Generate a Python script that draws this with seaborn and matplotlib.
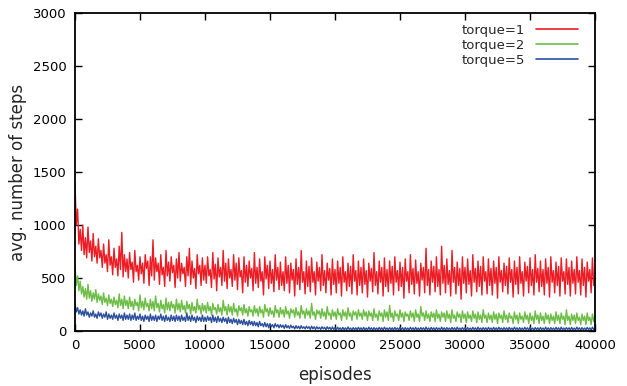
import numpy as np
import pandas as pd
import matplotlib
matplotlib.use('Agg')
import matplotlib.pyplot as plt
import seaborn as sns

# Episode grid (one reading every 100 episodes)
episodes = list(range(0, 40001, 100))

# Values, 20 readings per row (2000 episodes per row)
torque_1 = [
    1400, 1000, 1150, 820, 960, 760, 1000, 720, 880, 690, 980, 740, 850, 660, 920, 700, 800, 640, 870, 690,
    760, 600, 820, 640, 720, 560, 860, 620, 700, 530, 780, 600, 680, 520, 800, 580, 930, 510, 720, 560,
    680, 500, 740, 580, 650, 460, 760, 560, 620, 480, 700, 540, 640, 450, 720, 590, 660, 430, 700, 520,
    860, 480, 690, 560, 640, 440, 720, 530, 600, 420, 760, 520, 650, 470, 700, 550, 620, 410, 680, 500,
    740, 470, 640, 540, 600, 420, 700, 520, 780, 440, 660, 500, 590, 400, 720, 540, 620, 430, 690, 480,
    620, 450, 700, 520, 580, 410, 740, 490, 630, 380, 690, 510, 600, 430, 760, 470, 640, 400, 680, 500,
    580, 420, 720, 480, 640, 390, 690, 510, 570, 360, 700, 460, 620, 420, 660, 500, 590, 380, 740, 450,
    600, 410, 680, 470, 560, 340, 700, 490, 620, 400, 660, 450, 580, 370, 720, 480, 600, 390, 650, 430,
    560, 380, 700, 450, 620, 360, 640, 480, 580, 330, 680, 440, 600, 390, 760, 460, 560, 350, 660, 420,
    610, 370, 690, 460, 560, 340, 650, 470, 600, 380, 720, 430, 570, 360, 640, 480, 590, 340, 680, 440,
    580, 360, 660, 450, 600, 330, 700, 460, 560, 380, 640, 420, 610, 350, 720, 470, 570, 340, 660, 430,
    600, 360, 680, 440, 570, 320, 640, 470, 590, 370, 740, 430, 560, 350, 660, 460, 600, 330, 690, 420,
    580, 370, 660, 450, 610, 340, 700, 460, 570, 380, 650, 420, 600, 310, 680, 470, 560, 360, 720, 440,
    590, 350, 670, 450, 560, 330, 640, 480, 600, 360, 780, 430, 580, 340, 660, 460, 610, 370, 700, 420,
    580, 340, 800, 450, 620, 360, 680, 440, 570, 330, 760, 460, 600, 350, 650, 430, 590, 300, 700, 450,
    600, 360, 680, 440, 570, 330, 720, 460, 590, 370, 660, 420, 610, 340, 700, 470, 560, 350, 680, 430,
    590, 340, 660, 450, 600, 310, 700, 460, 570, 370, 640, 430, 610, 350, 690, 460, 580, 320, 660, 440,
    600, 350, 700, 450, 560, 330, 650, 470, 610, 360, 690, 430, 580, 340, 720, 460, 590, 370, 660, 420,
    580, 340, 680, 450, 600, 320, 700, 460, 570, 360, 650, 430, 610, 330, 690, 470, 560, 350, 680, 440,
    600, 330, 660, 450, 580, 350, 700, 460, 570, 340, 680, 430, 600, 320, 650, 470, 580, 360, 690, 430,
    500]

torque_2 = [
    620, 430, 520, 380, 470, 350, 420, 320, 400, 300, 440, 310, 380, 280, 360, 300, 390, 270, 350, 290,
    330, 250, 360, 270, 310, 240, 340, 260, 300, 230, 320, 250, 290, 220, 350, 240, 300, 210, 330, 240,
    290, 210, 320, 230, 280, 200, 300, 240, 270, 190, 340, 220, 280, 200, 310, 230, 260, 190, 300, 210,
    280, 190, 330, 220, 260, 180, 290, 210, 250, 170, 310, 200, 270, 190, 280, 220, 250, 170, 300, 200,
    260, 180, 290, 200, 240, 170, 280, 210, 250, 160, 270, 190, 230, 170, 300, 200, 240, 160, 260, 190,
    240, 170, 270, 190, 230, 150, 260, 200, 220, 160, 250, 180, 220, 150, 290, 190, 230, 150, 250, 180,
    230, 150, 260, 180, 210, 140, 240, 190, 220, 150, 250, 170, 210, 140, 230, 180, 200, 140, 240, 170,
    210, 140, 230, 170, 200, 130, 250, 180, 210, 140, 220, 160, 190, 130, 240, 170, 200, 130, 220, 160,
    200, 130, 230, 160, 190, 120, 210, 170, 200, 130, 220, 150, 180, 120, 240, 160, 190, 120, 210, 150,
    190, 120, 260, 150, 180, 110, 200, 160, 190, 120, 210, 140, 180, 110, 230, 150, 170, 110, 200, 140,
    180, 110, 210, 150, 170, 100, 200, 140, 180, 110, 220, 140, 170, 100, 190, 150, 180, 110, 200, 140,
    170, 110, 200, 140, 180, 100, 190, 140, 170, 100, 210, 130, 160, 100, 190, 140, 170, 90, 200, 130,
    180, 100, 240, 130, 170, 90, 190, 140, 160, 100, 200, 130, 170, 90, 180, 140, 160, 100, 190, 130,
    170, 90, 200, 130, 160, 90, 230, 140, 170, 100, 190, 120, 160, 90, 180, 130, 170, 90, 200, 120,
    160, 90, 180, 130, 170, 90, 190, 120, 160, 80, 200, 120, 150, 90, 180, 130, 160, 80, 190, 120,
    160, 80, 180, 120, 150, 90, 190, 120, 160, 80, 180, 110, 150, 80, 200, 120, 150, 80, 170, 110,
    150, 80, 180, 110, 160, 70, 170, 120, 150, 80, 190, 110, 150, 80, 170, 120, 140, 70, 180, 110,
    150, 70, 170, 110, 140, 80, 180, 110, 150, 70, 170, 100, 140, 70, 190, 110, 150, 70, 170, 100,
    140, 70, 170, 110, 150, 70, 160, 100, 140, 70, 180, 100, 150, 70, 170, 110, 140, 60, 200, 100,
    140, 60, 160, 100, 150, 70, 170, 100, 130, 60, 160, 100, 140, 60, 170, 100, 130, 60, 160, 90,
    150]

torque_5 = [
    260, 180, 220, 160, 200, 150, 190, 140, 210, 150, 180, 130, 170, 140, 190, 130, 160, 120, 180, 140,
    170, 120, 160, 130, 180, 110, 160, 120, 150, 110, 170, 120, 150, 100, 160, 120, 150, 100, 170, 110,
    150, 110, 160, 100, 150, 110, 170, 100, 140, 110, 160, 100, 140, 90, 150, 110, 140, 90, 160, 100,
    140, 100, 150, 90, 140, 110, 160, 100, 140, 90, 150, 100, 130, 90, 150, 100, 140, 90, 150, 100,
    140, 90, 150, 100, 130, 90, 170, 100, 140, 90, 150, 100, 130, 80, 140, 100, 130, 90, 150, 90,
    130, 90, 140, 100, 130, 80, 150, 90, 130, 80, 140, 90, 120, 80, 130, 90, 120, 70, 130, 80,
    110, 70, 120, 80, 110, 60, 110, 70, 100, 60, 110, 60, 90, 50, 100, 60, 90, 50, 90, 50,
    80, 40, 90, 50, 70, 40, 80, 40, 70, 30, 70, 40, 60, 30, 70, 40, 60, 30, 60, 35,
    55, 25, 60, 30, 50, 25, 55, 30, 45, 20, 50, 25, 45, 20, 50, 25, 40, 20, 45, 25,
    40, 15, 45, 20, 40, 15, 40, 20, 35, 15, 40, 20, 35, 12, 40, 18, 35, 12, 38, 15,
    32, 10, 36, 14, 30, 8, 34, 12, 30, 10, 38, 14, 28, 8, 32, 12, 30, 10, 34, 12,
    30, 8, 34, 12, 28, 10, 36, 14, 30, 8, 32, 12, 28, 10, 34, 12, 30, 8, 36, 14,
    28, 10, 32, 12, 30, 8, 34, 14, 28, 10, 36, 12, 30, 8, 32, 12, 28, 10, 34, 14,
    30, 8, 34, 12, 28, 10, 32, 14, 30, 8, 36, 12, 28, 10, 34, 12, 30, 8, 32, 14,
    28, 10, 36, 12, 30, 8, 32, 14, 28, 10, 34, 12, 30, 8, 36, 12, 28, 10, 32, 14,
    30, 8, 32, 12, 28, 10, 34, 14, 30, 8, 36, 12, 28, 10, 32, 12, 30, 8, 34, 14,
    28, 10, 34, 12, 30, 8, 36, 14, 28, 10, 32, 12, 30, 8, 34, 12, 28, 10, 36, 14,
    30, 8, 32, 12, 28, 10, 34, 14, 30, 8, 36, 12, 28, 10, 32, 12, 30, 8, 34, 14,
    28, 10, 36, 12, 30, 8, 32, 14, 28, 10, 34, 12, 30, 8, 36, 12, 28, 10, 32, 14,
    30, 8, 34, 12, 28, 10, 36, 14, 30, 8, 32, 12, 28, 10, 34, 12, 30, 8, 36, 14,
    20]

labels = ['torque=1', 'torque=2', 'torque=5']
colors = ['#ec1c24', '#6cbd45', '#2b4f9e']

# Build long-format frame for seaborn
df = pd.concat([
    pd.DataFrame({'episodes': episodes, 'steps': vals, 'torque': lab})
    for vals, lab in zip([torque_1, torque_2, torque_5], labels)
], ignore_index=True)

sns.set_style('ticks')
plt.rcParams['font.family'] = ['DejaVu Sans']

fig = plt.figure(figsize=(6.27, 3.86), dpi=100)
ax = fig.add_axes([0.1196, 0.1425, 0.8294, 0.8238])

sns.lineplot(data=df, x='episodes', y='steps', hue='torque', hue_order=labels,
             palette=colors, estimator=None, linewidth=1.0, ax=ax)

ax.set_xlim(0, 40000)
ax.set_ylim(0, 3000)
ax.set_xticks(range(0, 40001, 5000))
ax.set_yticks(range(0, 3001, 500))
ax.tick_params(direction='in', length=5, width=1, top=True, right=True,
               labelsize=9.5, colors='black', pad=6)
for s in ax.spines.values():
    s.set_visible(True)
    s.set_linewidth(1.3)
    s.set_color('black')

ax.set_xlabel('episodes', fontsize=12, labelpad=10)
ax.set_ylabel('avg. number of steps', fontsize=12, labelpad=4)

leg = ax.legend(loc='upper right', frameon=False, markerfirst=False, fontsize=9.5,
                handlelength=3.2, labelspacing=0.15, borderaxespad=0.3,
                bbox_to_anchor=(0.985, 0.995))
for h in leg.get_lines():
    h.set_linewidth(1.2)

fig.savefig('out.png', dpi=100)
